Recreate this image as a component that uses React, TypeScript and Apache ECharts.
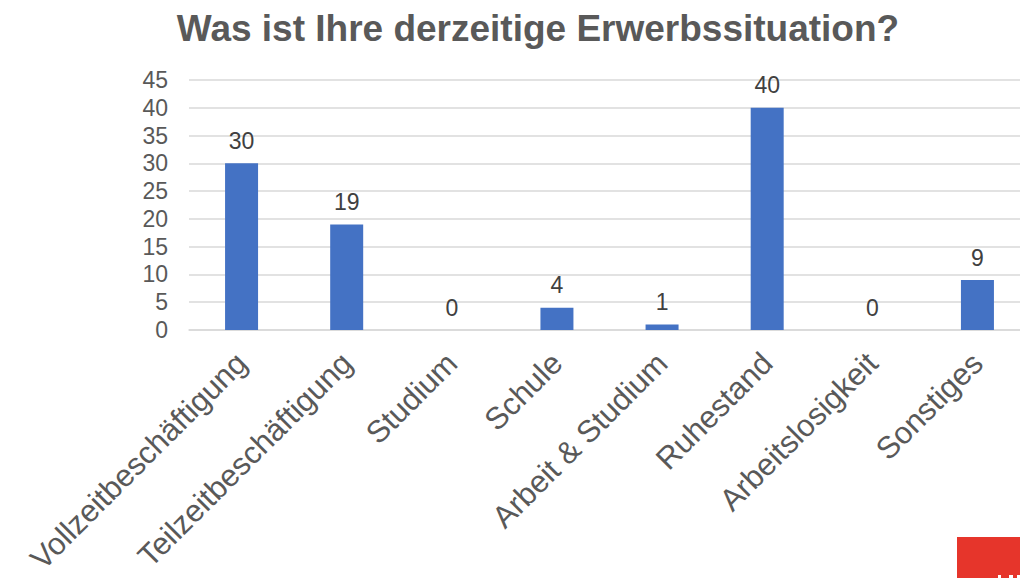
import React, { useEffect, useRef } from "react";
import * as echarts from "echarts";

const categories = [
  "Vollzeitbeschäftigung",
  "Teilzeitbeschäftigung",
  "Studium",
  "Schule",
  "Arbeit & Studium",
  "Ruhestand",
  "Arbeitslosigkeit",
  "Sonstiges",
];
const values = [30, 19, 0, 4, 1, 40, 0, 9];
const titleText = "Was ist Ihre derzeitige Erwerbssituation?";
const FONT = "Liberation Sans, Arial, sans-serif";

export default function App() {
  const ref = useRef<HTMLDivElement>(null);
  useEffect(() => {
    document.body.style.margin = "0";
    document.documentElement.style.overflow = "hidden";
    const chart = echarts.init(ref.current!, null, { renderer: "svg" });
    chart.setOption({
      animation: false,
      backgroundColor: "#ffffff",
      title: {
        text: titleText,
        left: 533,
        textAlign: "center",
        top: 5,
        textStyle: {
          fontFamily: FONT,
          fontWeight: "bold",
          fontSize: 37,
          color: "#595959",
        },
      },
      grid: {
        left: 189,
        right: 10,
        top: 80,
        height: 250,
        containLabel: false,
        outerBoundsMode: "none",
      },
      xAxis: {
        type: "category",
        data: categories,
        axisLine: { show: true, lineStyle: { color: "#d9d9d9", width: 1.5 } },
        axisTick: { show: false },
        axisLabel: {
          rotate: 45,
          interval: 0,
          margin: 28,
          fontFamily: FONT,
          fontSize: 31,
          color: "#595959",
        },
      },
      yAxis: {
        type: "value",
        min: 0,
        max: 45,
        interval: 5,
        axisLine: { show: false },
        axisTick: { show: false },
        splitLine: { lineStyle: { color: "#d9d9d9", width: 1.5 } },
        axisLabel: {
          margin: 21,
          fontFamily: FONT,
          fontSize: 23,
          color: "#595959",
        },
      },
      series: [
        {
          type: "bar",
          data: values,
          barWidth: 33,
          itemStyle: { color: "#4472C4" },
          label: {
            show: true,
            position: "top",
            distance: 11,
            fontFamily: FONT,
            fontSize: 23,
            color: "#404040",
          },
        },
      ],
      graphic: [
        {
          type: "rect",
          shape: { x: 957, y: 537, width: 63, height: 41 },
          style: { fill: "#E6352B" },
        },
        { type: "rect", shape: { x: 998, y: 575, width: 3, height: 3 }, style: { fill: "#ffffff" } },
        { type: "rect", shape: { x: 1009, y: 575, width: 4, height: 3 }, style: { fill: "#ffffff" } },
        { type: "rect", shape: { x: 1017, y: 575, width: 3, height: 3 }, style: { fill: "#ffffff" } },
      ],
    });
    return () => chart.dispose();
  }, []);
  return (
    <div style={{ width: 1020, height: 578, overflow: "hidden", position: "relative" }}>
      <div ref={ref} style={{ width: 1040, height: 578 }} />
    </div>
  );
}
